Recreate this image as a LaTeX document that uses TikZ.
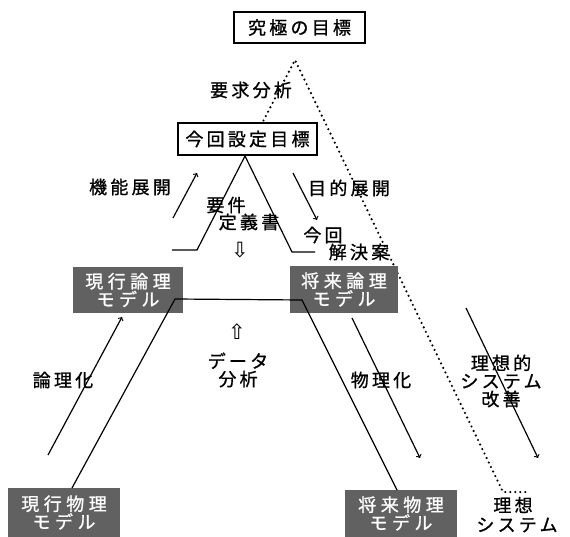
\documentclass[tikz,border=0pt]{standalone}
\usepackage{fontspec}
\setmainfont{Noto Sans CJK JP}
\newfontfamily\jp[LetterSpace=18,FakeBold=1]{Noto Sans CJK JP}
\newfontfamily\jpwide[LetterSpace=25,FakeBold=1]{Noto Sans CJK JP}
\newfontfamily\arrowfont{DejaVu Sans}
\usetikzlibrary{positioning}

\tikzset{
  goalbox/.style={draw,line width=1.5pt,fill=white,minimum width=131pt,minimum height=31pt,inner sep=1pt,font=\jp\fontsize{18}{20}\selectfont},
  modelbox/.style={fill=black!62,text=white,align=center,minimum width=110pt,minimum height=46pt,inner sep=0pt,font=\jpwide\fontsize{18}{18}\selectfont},
  lbl/.style={align=center,inner sep=0.5pt,font=\jp\fontsize{18}{18}\selectfont},
  dotline/.style={line width=2.4pt,line cap=round,dash pattern=on 0pt off 5pt},
}

\begin{document}
\begin{tikzpicture}[x=1pt,y=-1pt,line width=1.2pt]
\useasboundingbox (0,0) rectangle (570,537);

% points of the two triangles
\coordinate (top) at (295,60);
\coordinate (apex) at (245,156);
\coordinate (lfoot) at (197,250);
\coordinate (lend) at (172,250);
\coordinate (rfoot) at (292,252);
\coordinate (rend) at (315,252);
\coordinate (dfoot) at (503,492);
\coordinate (dend) at (530,492);
\coordinate (lcorner) at (175,299);
\coordinate (rcorner) at (302,300);
\coordinate (lbase) at (72,488);
\coordinate (rbase) at (397,490);

\draw[dotline] (apex) -- (top) -- (dfoot) -- (dend);

\node[goalbox] (ultimate) at (299.5,27.5) {究極の目標};
\node[goalbox,minimum width=139pt,minimum height=32pt] (current) at (247.5,139) {今回設定目標};

\draw (lend) -- (lfoot) -- (apex) -- (rfoot) -- (rend);

\node[modelbox] (curlogic) at (128,290) {現行論理\\モデル};
\node[modelbox,minimum width=108pt] (futlogic) at (344,289.5) {将来論理\\モデル};
\node[modelbox,minimum width=112pt,minimum height=49pt] (curphys) at (64,512.5) {現行物理\\モデル};
\node[modelbox,minimum width=112pt,minimum height=47pt] (futphys) at (401,513.5) {将来物理\\モデル};

\draw (lbase) -- (lcorner) -- (rcorner) -- (rbase);

% labels
\node[lbl] (req) at (251,90) {要求分析};
\node[lbl] (func) at (130,187) {機能展開};
\node[lbl] (purp) at (349,188) {目的展開};
\node[lbl] (spec1) at (226,205) {要件};
\node[lbl] (spec2) at (249,222) {定義書};
\node[lbl] (sol1) at (323,235) {今回};
\node[lbl] (sol2) at (359,252) {解決案};
\node[font=\arrowfont\fontsize{21}{22}\selectfont] (down) at (240,250) {⇩};
\node[font=\arrowfont\fontsize{21}{22}\selectfont] (up) at (237,332) {⇧};
\node[lbl] (data) at (238,370) {データ\\分析};
\node[lbl] (logic) at (63,380) {論理化};
\node[lbl] (phys) at (381,380) {物理化};
\node[lbl] (ideal) at (501,381) {理想的\\システム\\改善};
\node[lbl] (sys1) at (513,505) {理想};
\node[lbl] (sys2) at (517,525) {システム};

% arrows
\coordinate (a1) at (48,455);   \coordinate (a2) at (122,317);
\coordinate (b1) at (352,318);  \coordinate (b2) at (420,458);
\coordinate (c1) at (173,218);  \coordinate (c2) at (197,173);
\coordinate (d1) at (293,173);  \coordinate (d2) at (317,220);
\coordinate (e1) at (466,308);  \coordinate (e2) at (538,458);
\draw[->] (a1) -- (a2);
\draw[->] (b1) -- (b2);
\draw[->] (c1) -- (c2);
\draw[->] (d1) -- (d2);
\draw[->] (e1) -- (e2);
\end{tikzpicture}
\end{document}
